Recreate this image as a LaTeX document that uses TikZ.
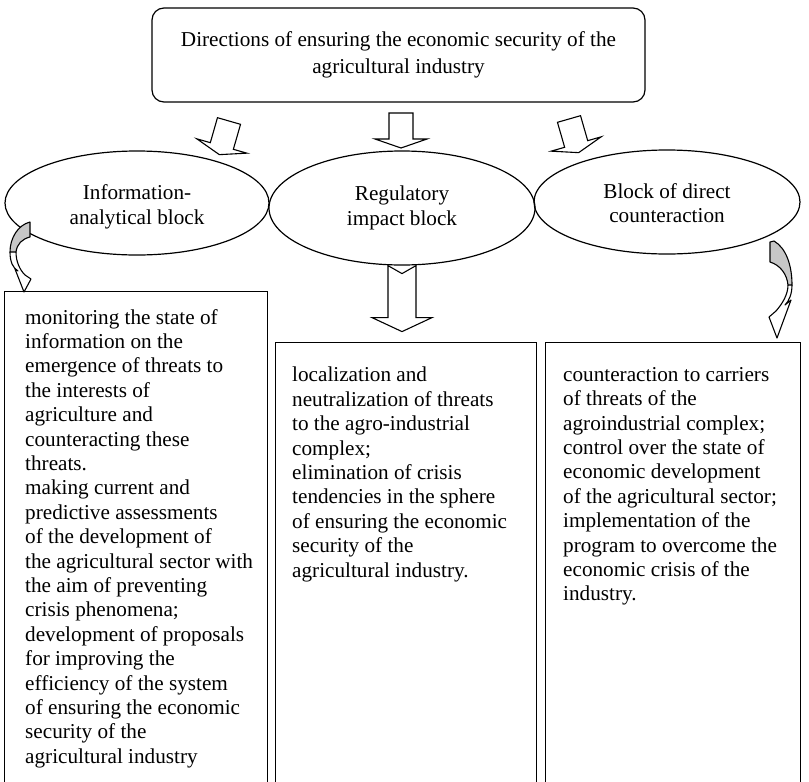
\documentclass[tikz,border=0pt]{standalone}
\usepackage{fontspec}
\setmainfont{Liberation Serif}
\usetikzlibrary{shapes.geometric}
\begin{document}
\begin{tikzpicture}[x=1pt,y=-1pt,
  every node/.style={font=\fontsize{21.2}{24.4}\selectfont, inner sep=0pt},
  topbox/.style={draw, line width=1.2pt, rounded corners=12pt, minimum width=493pt, minimum height=94pt, align=center, font=\fontsize{21.2}{27}\selectfont},
  ell/.style={draw, ellipse, line width=1.2pt, align=center},
  blockbox/.style={draw, line width=1.2pt, anchor=north west},
  bodytext/.style={anchor=north west, align=left},
  barrow/.style={draw, line width=1.1pt, line join=miter},
  garrow/.style={draw, fill=black!22, line width=1.1pt, line join=round}]
\useasboundingbox (0,0) rectangle (809,782);
\clip (0,0) rectangle (809,782);

% title
\node[topbox] (top) at (398.5,55) {Directions of ensuring the economic security of the\\agricultural industry};

% ellipses
\node[ell, minimum width=264pt, minimum height=104pt,
  label={[align=center, yshift=-4pt]center:Information-\\analytical block}] (e1) at (137,203) {};
\node[ell, minimum width=266pt, minimum height=114pt] (e2) at (402,208) {Regulatory\\impact block};
\node[ell, minimum width=266pt, minimum height=104pt,
  label={[align=center, yshift=-1pt]center:Block of direct\\counteraction}] (e3) at (667,202) {};

% boxes
\node[blockbox, minimum width=263pt, minimum height=520pt] (b1) at (4,291) {};
\node[blockbox, minimum width=261pt, minimum height=470pt] (b2) at (275,342) {};
\node[blockbox, minimum width=255pt, minimum height=470pt] (b3) at (545,342) {};

\node[bodytext] (t1) at (25,309) {monitoring the state of\\information on the\\emergence of threats to\\the interests of\\agriculture and\\counteracting these\\threats.\\making current and\\predictive assessments\\of the development of\\the agricultural sector with\\the aim of preventing\\crisis phenomena;\\development of proposals\\for improving the\\efficiency of the system\\of ensuring the economic\\security of the\\agricultural industry};
\node[bodytext] (t2) at (292,367) {localization and\\neutralization of threats\\to the agro-industrial\\complex;\\elimination of crisis\\tendencies in the sphere\\of ensuring the economic\\security of the\\agricultural industry.};
\node[bodytext] (t3) at (563,367) {counteraction to carriers\\of threats of the\\agroindustrial complex;\\control over the state of\\economic development\\of the agricultural sector;\\implementation of the\\program to overcome the\\economic crisis of the\\industry.};

% block arrows from title to ellipses
\foreach \p/\r in {{(229,121)}/-16, {(401,113)}/0, {(569,119)}/16}
  \draw[barrow, shift={\p}, rotate=\r] (-12,0) -- (12,0) -- (12,26) -- (26,26) -- (0,35) -- (-26,26) -- (-12,26) -- cycle;

% notched arrow below middle ellipse
\draw[barrow, shift={(e2.south)}] (-14,0) -- (0,8) -- (14,0) -- (14,52) -- (30,52) -- (0,66) -- (-30,52) -- (-14,52) -- cycle;

% left curved arrow
\draw[garrow] (30,222) -- (30,237) .. controls (22,239) and (17,244) .. (16,252) -- (10,252) .. controls (10,238) and (18,225) .. (30,222) -- cycle;
\draw[barrow, line join=round] (10,252) .. controls (10,262) and (13,268) .. (18,271) -- (15,269) -- (24,292) -- (31,279) -- (25,275) .. controls (20,270) and (16,262) .. (16,252);

% right curved arrow
\draw[garrow] (770,242) -- (770,262) .. controls (780,265) and (787,274) .. (788,285) -- (792,285) .. controls (792,265) and (786,248) .. (774,241) -- cycle;
\draw[barrow, line join=round] (792,285) .. controls (792,294) and (789,301) .. (785,305) -- (791,300) -- (777,338) -- (769,317) -- (776,311) .. controls (782,304) and (788,295) .. (788,285);
\end{tikzpicture}
\end{document}
